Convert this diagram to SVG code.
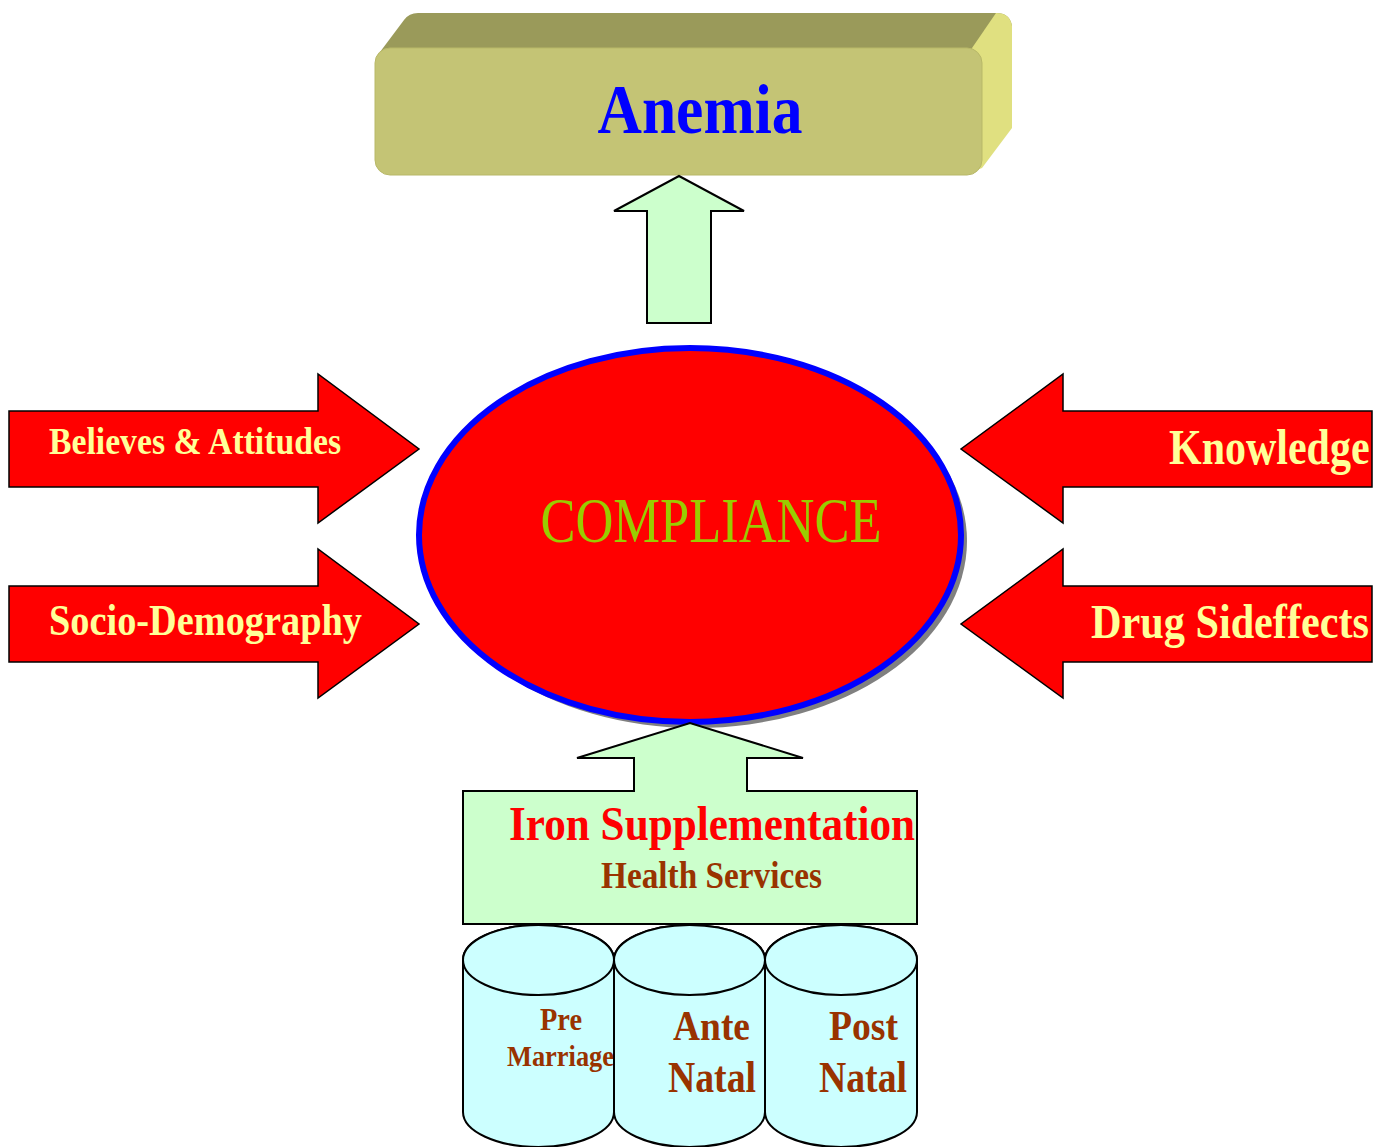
<svg xmlns="http://www.w3.org/2000/svg" width="1393" height="1147" viewBox="0 0 1393 1147">
  <style>
    .bold { font-family: "Liberation Serif", "Times New Roman", serif; font-weight: bold; }
    .reg { font-family: "Liberation Serif", "Times New Roman", serif; }
    .factor { fill: #FF0000; stroke: #000000; stroke-width: 1.5; stroke-linejoin: miter; }
    .factor-label { fill: #FFFF99; }
    .green { fill: #CCFFCC; stroke: #000000; stroke-width: 2; }
    .cyl { fill: #CCFFFF; stroke: #000000; stroke-width: 2; }
    .brown { fill: #993300; }
  </style>

  <rect width="1393" height="1147" fill="#FFFFFF"/>

  <!-- Outcome block (3D bar) -->
  <g id="anemia">
    <path d="M 380,52 L 404,20 Q 409,13 418,13 L 996,13 Q 1010,13 1012,26 L 985,62 Z" fill="#9A9A5A"/>
    <path d="M 972,48 L 996,13 Q 1010,13 1012,26 L 1012,128 L 982,168 L 972,172 Z" fill="#E0E080"/>
    <rect x="375" y="48" width="607" height="127" rx="15" ry="15" fill="#C4C475" stroke="#B8B868" stroke-width="1"/>
    <text class="bold" x="700" y="133" font-size="70" fill="#0000FF" text-anchor="middle" textLength="205" lengthAdjust="spacingAndGlyphs">Anemia</text>
  </g>

  <!-- Central outcome behaviour -->
  <g id="compliance">
    <ellipse cx="696" cy="541" rx="271" ry="187" fill="#808080"/>
    <ellipse cx="690" cy="535" rx="271" ry="187" fill="#FF0000" stroke="#0000FF" stroke-width="6"/>
    <text class="reg" x="711" y="542" font-size="63" fill="#99CC00" text-anchor="middle" textLength="341" lengthAdjust="spacingAndGlyphs">COMPLIANCE</text>
  </g>

  <!-- Contributing factors, left side -->
  <g id="believes-attitudes">
    <polygon class="factor" points="9,411 318,411 318,374 419,449 318,523 318,487 9,487"/>
    <text class="bold factor-label" x="49" y="454" font-size="38" textLength="292" lengthAdjust="spacingAndGlyphs">Believes &amp; Attitudes</text>
  </g>
  <g id="socio-demography">
    <polygon class="factor" points="9,586 318,586 318,549 419,624 318,698 318,662 9,662"/>
    <text class="bold factor-label" x="49" y="635" font-size="45" textLength="313" lengthAdjust="spacingAndGlyphs">Socio-Demography</text>
  </g>

  <!-- Contributing factors, right side (labels condensed horizontally) -->
  <g id="knowledge">
    <polygon class="factor" points="1372,411 1063,411 1063,374 961,449 1063,523 1063,487 1372,487"/>
    <text class="bold factor-label" transform="translate(1169,464) scale(0.84,1)" x="0" y="0" font-size="50">Knowledge</text>
  </g>
  <g id="drug-sideffects">
    <polygon class="factor" points="1372,586 1063,586 1063,549 961,624 1063,698 1063,662 1372,662"/>
    <text class="bold factor-label" transform="translate(1091,638) scale(0.88,1)" x="0" y="0" font-size="48">Drug Sideffects</text>
  </g>

  <!-- Health service input with arrow into the centre -->
  <g id="iron-supplementation">
    <polygon class="green" points="463,791 634,791 634,758 577,758 690,723 803,758 747,758 747,791 917,791 917,924 463,924"/>
    <text class="bold" x="509" y="840" font-size="48" fill="#FF0000" textLength="406" lengthAdjust="spacingAndGlyphs">Iron Supplementation</text>
    <text class="bold brown" x="601" y="888" font-size="38" textLength="221" lengthAdjust="spacingAndGlyphs">Health Services</text>
  </g>

  <!-- Service stages -->
  <g id="pre-marriage">
    <path class="cyl" d="M 463,960 L 463,1112 A 75.5,35 0 0 0 614,1112 L 614,960 A 75.5,35 0 0 0 463,960 Z"/>
    <ellipse class="cyl" cx="538.5" cy="960" rx="75.5" ry="35"/>
    <text class="bold brown" x="540" y="1030" font-size="31" textLength="42" lengthAdjust="spacingAndGlyphs">Pre</text>
    <text class="bold brown" x="507" y="1066" font-size="29" textLength="107" lengthAdjust="spacingAndGlyphs">Marriage</text>
  </g>
  <g id="ante-natal">
    <path class="cyl" d="M 614,960 L 614,1112 A 75.5,35 0 0 0 765,1112 L 765,960 A 75.5,35 0 0 0 614,960 Z"/>
    <ellipse class="cyl" cx="689.5" cy="960" rx="75.5" ry="35"/>
    <text class="bold brown" x="673" y="1040" font-size="43" textLength="77" lengthAdjust="spacingAndGlyphs">Ante</text>
    <text class="bold brown" x="668" y="1092" font-size="44" textLength="88" lengthAdjust="spacingAndGlyphs">Natal</text>
  </g>
  <g id="post-natal">
    <path class="cyl" d="M 765,960 L 765,1112 A 76,35 0 0 0 917,1112 L 917,960 A 76,35 0 0 0 765,960 Z"/>
    <ellipse class="cyl" cx="841" cy="960" rx="76" ry="35"/>
    <text class="bold brown" x="829" y="1040" font-size="43" textLength="69" lengthAdjust="spacingAndGlyphs">Post</text>
    <text class="bold brown" x="819" y="1092" font-size="44" textLength="88" lengthAdjust="spacingAndGlyphs">Natal</text>
  </g>

  <!-- Connector: compliance leads to anemia outcome -->
  <g id="connectors">
    <polygon class="green" points="647,323 647,211 614,211 679,176 744,211 711,211 711,323"/>
  </g>
</svg>
